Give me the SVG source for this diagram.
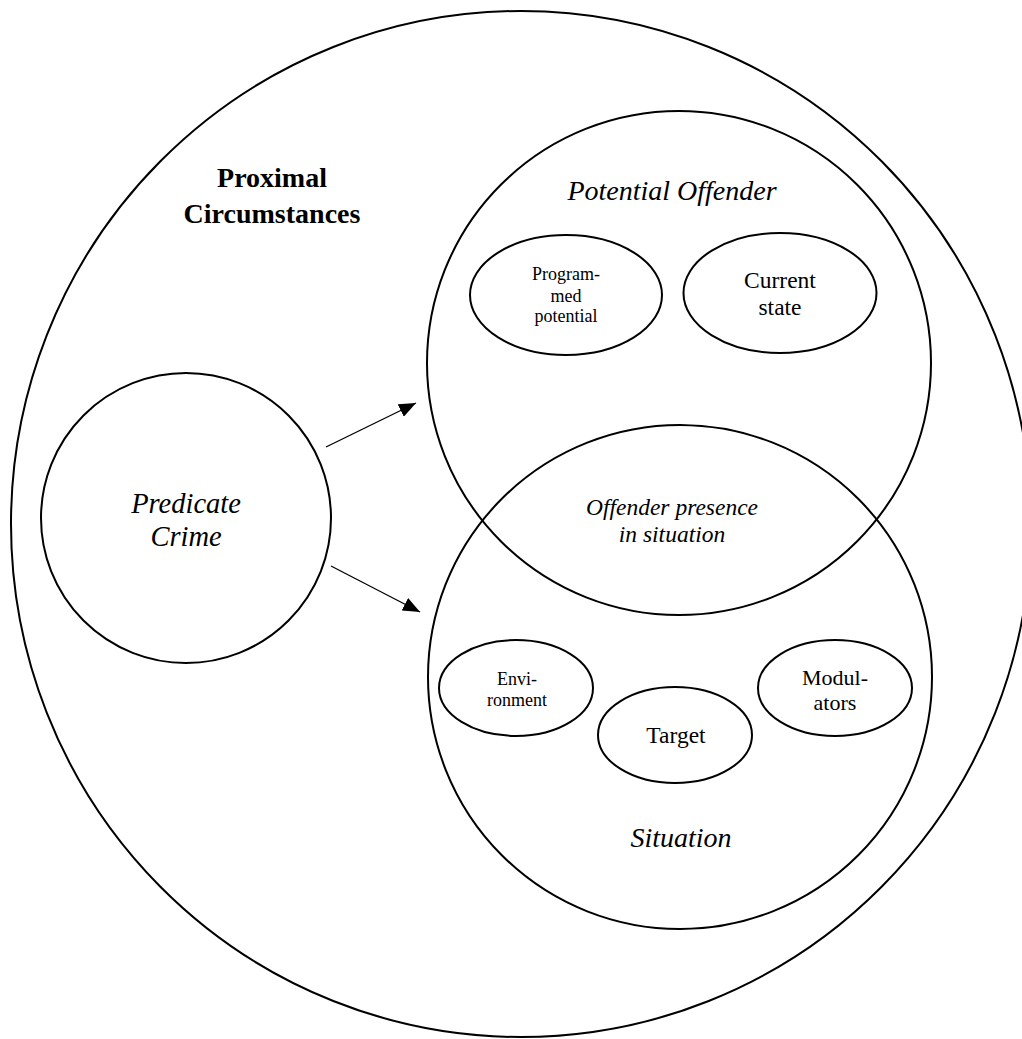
<svg xmlns="http://www.w3.org/2000/svg" width="1022" height="1039" viewBox="0 0 1022 1039">
<style>
.c{fill:none;stroke:#000;stroke-width:2}
.e{fill:none;stroke:#000;stroke-width:2}
.t{font-family:"Liberation Serif","Times New Roman",serif;fill:#000;text-anchor:middle}
.i{font-style:italic}
.b{font-weight:bold}
.conn{stroke:#000;stroke-width:1.3;fill:none}
</style>
<defs>
<marker id="arr" markerUnits="userSpaceOnUse" markerWidth="18" markerHeight="14" refX="17" refY="7" orient="auto">
<path d="M0,0 L17,7 L0,14 Z" fill="#000"/>
</marker>
</defs>
<rect width="1022" height="1039" fill="#fff"/>
<g id="proximal">
<ellipse class="c" cx="521" cy="524" rx="510" ry="513"/>
<text class="t b" x="272" y="187" font-size="28">Proximal</text>
<text class="t b" x="272" y="223" font-size="28">Circumstances</text>
</g>
<g id="potential-offender">
<circle class="c" cx="679" cy="363" r="252"/>
<text class="t i" x="672" y="200" font-size="28">Potential Offender</text>
</g>
<g id="situation">
<circle class="c" cx="680" cy="677" r="252"/>
<text class="t i" x="681" y="847" font-size="28">Situation</text>
</g>
<g id="offender-presence">
<text class="t i" x="672" y="515" font-size="23.5">Offender presence</text>
<text class="t i" x="672" y="542" font-size="23.5">in situation</text>
</g>
<g id="programmed-potential">
<ellipse class="e" cx="566" cy="295" rx="96" ry="60"/>
<text class="t" x="566" y="280" font-size="18">Program-</text>
<text class="t" x="566" y="301.5" font-size="18">med</text>
<text class="t" x="566" y="322" font-size="18">potential</text>
</g>
<g id="current-state">
<ellipse class="e" cx="780" cy="293" rx="96.5" ry="60"/>
<text class="t" x="780" y="288" font-size="23.5">Current</text>
<text class="t" x="780" y="315" font-size="23.5">state</text>
</g>
<g id="environment">
<ellipse class="e" cx="516" cy="688" rx="77" ry="48"/>
<text class="t" x="517" y="685" font-size="18">Envi-</text>
<text class="t" x="517" y="705.5" font-size="18">ronment</text>
</g>
<g id="target">
<ellipse class="e" cx="675" cy="735" rx="77" ry="48"/>
<text class="t" x="676" y="743" font-size="23.5">Target</text>
</g>
<g id="modulators">
<ellipse class="e" cx="835" cy="688" rx="77" ry="48"/>
<text class="t" x="835" y="685" font-size="22">Modul-</text>
<text class="t" x="835" y="710" font-size="22">ators</text>
</g>
<g id="predicate-crime">
<circle class="c" cx="186" cy="518" r="145"/>
<text class="t i" x="186" y="513" font-size="28.5">Predicate</text>
<text class="t i" x="186" y="546" font-size="28.5">Crime</text>
</g>
<g id="connectors">
<line class="conn" x1="326" y1="447" x2="416" y2="403" marker-end="url(#arr)"/>
<line class="conn" x1="331" y1="566" x2="420" y2="612" marker-end="url(#arr)"/>
</g>
</svg>
